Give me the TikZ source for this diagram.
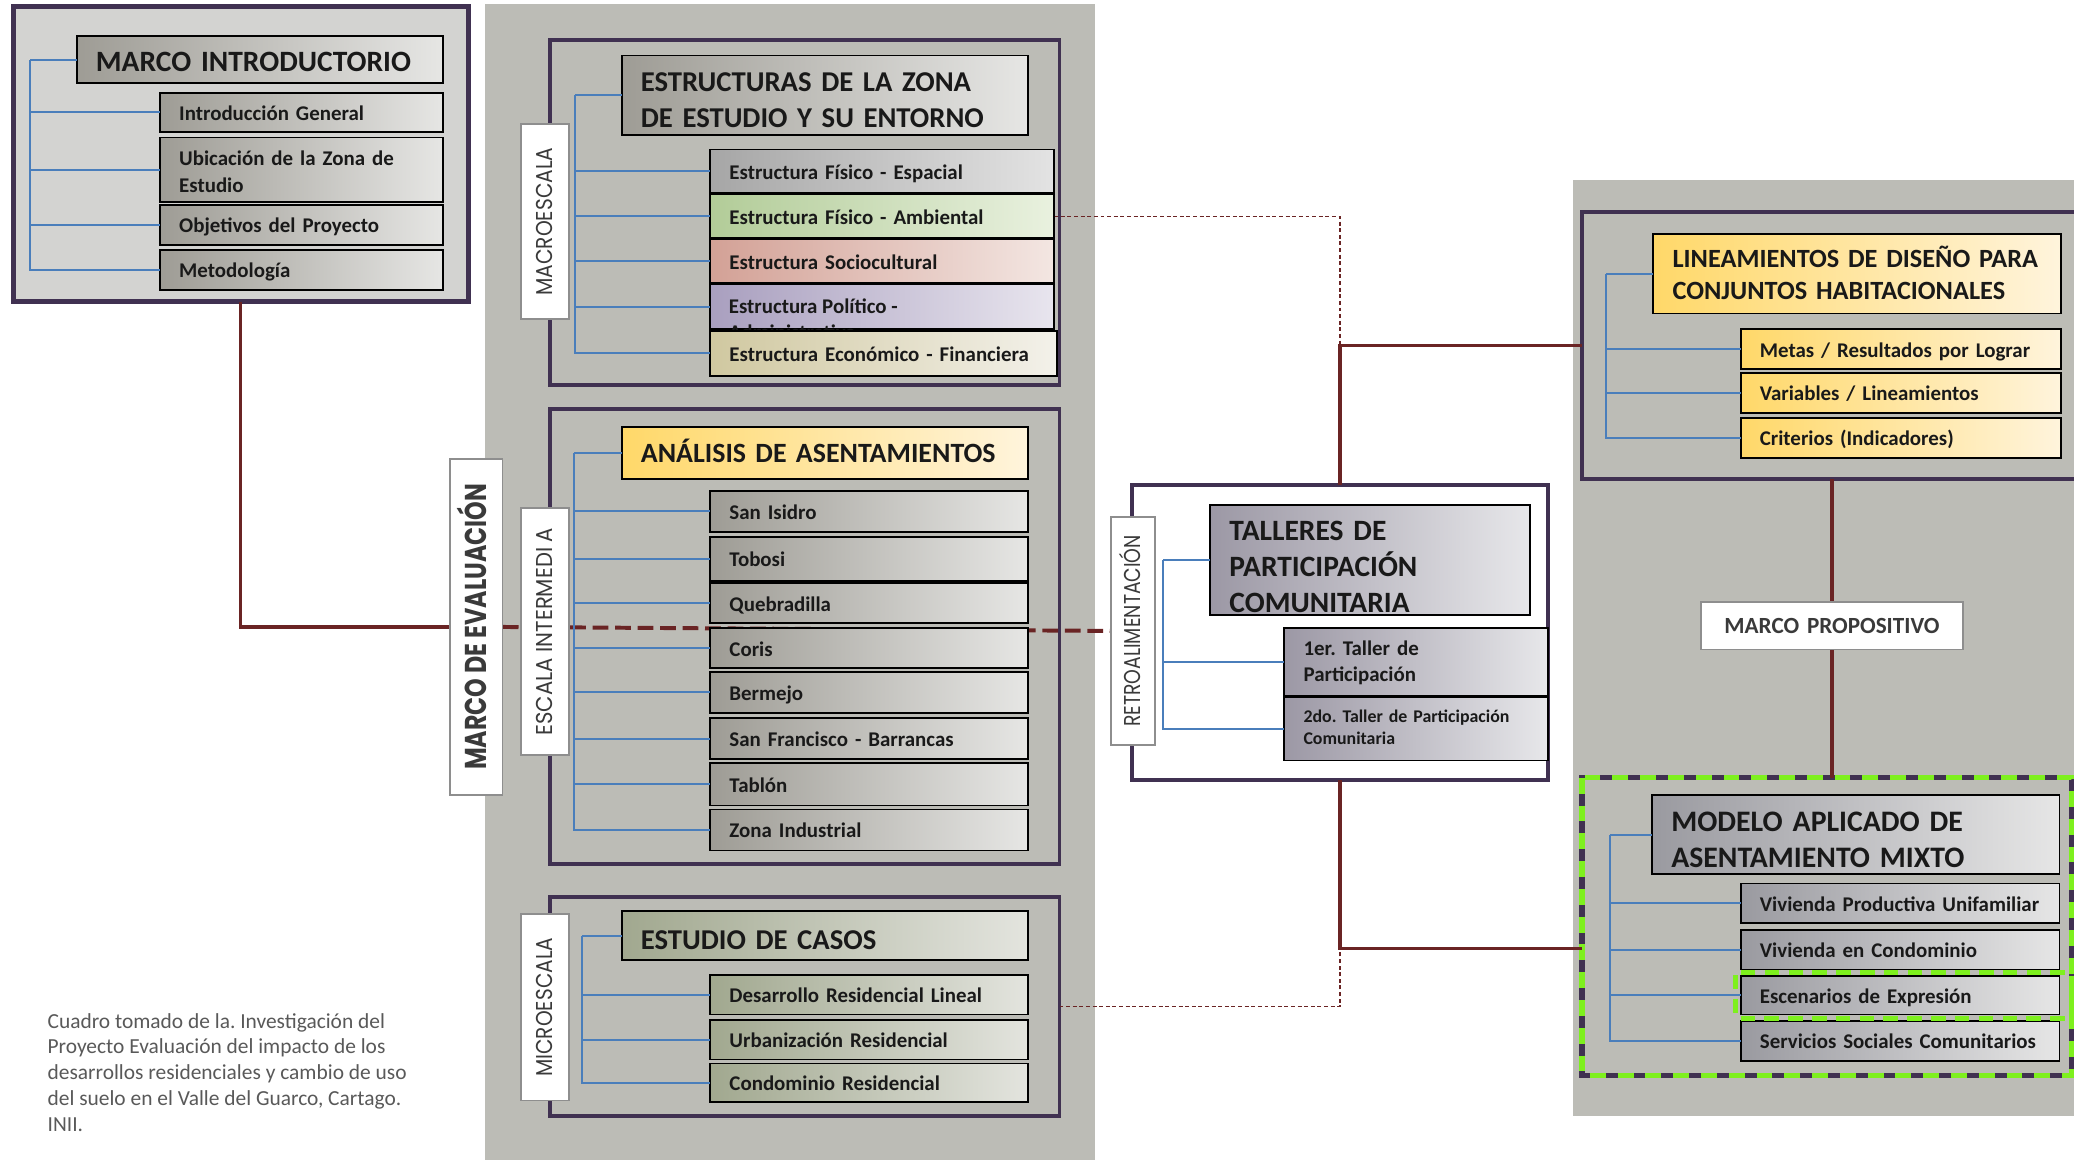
\documentclass[tikz,border=0pt]{standalone}
\usepackage{fontspec}
\usepackage{graphicx}
\setmainfont{Carlito}
\newfontfamily\geo{Poppins}
\usetikzlibrary{calc}
\frenchspacing

\definecolor{bgg}{HTML}{BCBCB6}
\definecolor{panelg}{HTML}{D3D3D1}
\definecolor{purp}{HTML}{403151}
\definecolor{redc}{HTML}{6A2424}
\definecolor{bluec}{HTML}{4A7EBB}
\definecolor{greenc}{HTML}{7EF01E}
\definecolor{lblgray}{HTML}{8E8E8E}
\definecolor{capg}{HTML}{595959}
\definecolor{lbltext}{HTML}{3A3A3A}
\definecolor{gyL}{HTML}{9E9C95}\definecolor{gyR}{HTML}{E6E6E4}
\definecolor{g2L}{HTML}{A6A6A6}\definecolor{g2R}{HTML}{E3E3E3}
\definecolor{grL}{HTML}{B2CC98}\definecolor{grR}{HTML}{E9F1DF}
\definecolor{pkL}{HTML}{D3A196}\definecolor{pkR}{HTML}{F3E6E2}
\definecolor{vlL}{HTML}{A99FBF}\definecolor{vlR}{HTML}{E8E5EE}
\definecolor{bgL}{HTML}{D0C8A0}\definecolor{bgR}{HTML}{F3F1EA}
\definecolor{ylL}{HTML}{FFD869}\definecolor{ylR}{HTML}{FFF4DC}
\definecolor{ogL}{HTML}{A1A88F}\definecolor{ogR}{HTML}{E3E4DE}
\definecolor{ppL}{HTML}{9C98A5}\definecolor{ppR}{HTML}{E7E7EA}
\definecolor{mgL}{HTML}{9A9AA0}\definecolor{mgR}{HTML}{E6E6E6}

\pgfdeclarelayer{back}
\pgfdeclarelayer{mid}
\pgfsetlayers{back,mid,main}

\tikzset{
 every node/.style={inner sep=0pt, outer sep=0pt},
 outerbox/.style={draw=purp, line width=3pt, fill=bgg},
 lblbox/.style={draw=lblgray, line width=1.3pt, fill=white},
 framebox/.style={draw=black, line width=1.4pt},
 it/.style={font=\bfseries\fontsize{15.8}{20}\selectfont, text=black!90},
 itsm/.style={font=\bfseries\fontsize{13.5}{17}\selectfont, text=black!90},
 tt/.style={text=black!90},
 gy/.style={framebox, left color=gyL, right color=gyR},
 gtwo/.style={framebox, left color=g2L, right color=g2R},
 gr/.style={framebox, left color=grL, right color=grR},
 pk/.style={framebox, left color=pkL, right color=pkR},
 vl/.style={framebox, left color=vlL, right color=vlR},
 bge/.style={framebox, left color=bgL, right color=bgR},
 yl/.style={framebox, left color=ylL, right color=ylR},
 og/.style={framebox, left color=ogL, right color=ogR},
 pp/.style={framebox, left color=ppL, right color=ppR},
 mg/.style={framebox, left color=mgL, right color=mgR},
 tree/.style={draw=bluec, line width=1.5pt},
 link/.style={draw=redc, line width=2.5pt},
 linkdash/.style={draw=redc, line width=3pt, dash pattern=on 12pt off 5pt},
 thindash/.style={draw=redc, line width=1.1pt, dash pattern=on 3pt off 2pt},
 vlab/.style={rotate=90, text=lbltext},
}

% plain box: name x1 y1 x2 y2 style
\newcommand{\ob}[6]{%
 \pgfmathsetmacro{\bxw}{#4-#2}\pgfmathsetmacro{\bxh}{#5-#3}%
 \node[#6, minimum width=\bxw pt, minimum height=\bxh pt] (#1) at ({(#2+#4)/2},{(#3+#5)/2}) {};}
% box with text: name x1 y1 x2 y2 boxstyle textstyle shift text
\newcommand{\bx}[9]{%
 \ob{#1}{#2}{#3}{#4}{#5}{#6}%
 \pgfmathsetmacro{\bxt}{#4-#2-29}%
 \node[text width=\bxt pt, align=left, #7] (#1t) at ($(#1.center)+(0,#8)$) {\strut #9\strut};}

\newcommand{\vtxt}[3]{\resizebox{#1pt}{#2pt}{\geo\smash{#3}\vphantom{M}}}
\newcommand{\vtxtb}[3]{\resizebox{#1pt}{#2pt}{\geo\bfseries\smash{#3}\vphantom{M}}}

\begin{document}
\begin{tikzpicture}[x=1pt, y=-1pt]
\useasboundingbox (0,0) rectangle (1568,877);
\clip (0,0) rectangle (1568,877);

% ---------- backgrounds and outer frames ----------
\begin{pgfonlayer}{back}
 \fill[white] (0,0) rectangle (1568,877);
 \fill[bgg] (367,3) rectangle (828,877);
 \fill[bgg] (1189,136) rectangle (1572,844);
 \ob{outL}{10}{5}{354}{228}{outerbox, fill=panelg, line width=3.5pt}
 \ob{outE}{416}{30}{801}{291}{outerbox}
 \ob{outA}{416}{309}{801}{653}{outerbox}
 \ob{outC}{416}{678}{801}{844}{outerbox}
 \ob{outT}{856}{367}{1170}{590}{outerbox, fill=white}
 \ob{outLi}{1196}{160}{1580}{362}{outerbox}
 \ob{outMo}{1196}{588}{1566}{813}{outerbox, line width=4pt}
 \draw[greenc, line width=4pt, dash pattern=on 12pt off 9pt] (outMo.north west) rectangle (outMo.south east);
\end{pgfonlayer}

% ---------- MARCO INTRODUCTORIO ----------
\bx{tMI}{58}{27}{335}{63}{gy}{tt, font=\bfseries\fontsize{22.3}{27}\selectfont}{3.5}{MARCO INTRODUCTORIO}
\bx{iIG}{121}{70}{335}{100}{gy}{it}{2}{Introducción General}
\bx{iUZ}{121}{104}{335}{153}{gy}{it}{3}{Ubicación de la Zona de\\Estudio}
\bx{iOP}{121}{155}{335}{185}{gy}{it}{2}{Objetivos del Proyecto}
\bx{iMe}{121}{189}{335}{219}{gy}{it}{2}{Metodología}
\draw[tree] (tMI.west) -- ++(-35,0) coordinate (trL);
\foreach \n in {iIG,iUZ,iOP,iMe} \draw[tree] (trL) |- (\n.west);

% ---------- MARCO DE EVALUACION ----------
\ob{mde}{340}{347}{380}{601}{lblbox}
\node[vlab] (mdeT) at (mde.center) {\vtxtb{216}{16}{MARCO DE EVALUACIÓN}};

% ---------- ESTRUCTURAS ----------
\ob{lMac}{394}{94}{430}{241}{lblbox}
\node[vlab] (lMacT) at (lMac.center) {\vtxt{112}{12}{MACROESCALA}};
\bx{tE}{470}{42}{777}{102}{gy}{tt, font=\bfseries\fontsize{21.7}{26.5}\selectfont}{5.5}{ESTRUCTURAS DE LA ZONA\\DE ESTUDIO Y SU ENTORNO}
\bx{esp}{537}{113}{797}{146}{gtwo}{it}{2}{Estructura Físico - Espacial}
\bx{amb}{537}{147}{797}{180}{gr}{it}{2}{Estructura Físico - Ambiental}
\bx{soc}{537}{181}{797}{214}{pk}{it}{2}{Estructura Sociocultural}
\ob{pol}{537}{215}{797}{249}{vl}
\node[anchor=north west, align=left, it] (polT) at (551,223) {\strut Estructura Político -\\Administrativa};
\bx{eco}{537}{250}{799}{284}{bge}{it}{2}{Estructura Económico - Financiera}
\draw[tree] (tE.west) -- ++(-35,0) coordinate (trE);
\foreach \n in {esp,amb,soc,pol,eco} \draw[tree] (trE) |- (\n.west);

% ---------- ANALISIS ----------
\ob{lInt}{394}{384}{430}{571}{lblbox}
\node[vlab] (lIntT) at (lInt.center) {\vtxt{157}{12}{ESCALA INTERMEDI A}};
\bx{tA}{470}{323}{777}{362}{yl}{tt, font=\bfseries\fontsize{21.1}{26}\selectfont}{2}{ANÁLISIS DE ASENTAMIENTOS}
\bx{a1}{537}{371}{777}{402}{gy}{it}{2}{San Isidro}
\bx{a2}{537}{406}{777}{439}{gy}{it}{2}{Tobosi}
\bx{a3}{537}{441}{777}{471}{gy}{it}{2}{Quebradilla}
\bx{a4}{537}{475}{777}{505}{gy}{it}{2}{Coris}
\bx{a5}{537}{508}{777}{539}{gy}{it}{2}{Bermejo}
\bx{a6}{537}{543}{777}{574}{gy}{it}{2}{San Francisco - Barrancas}
\bx{a7}{537}{577}{777}{609}{gy}{it}{2}{Tablón}
\bx{a8}{537}{612}{777}{643}{gy}{it}{2}{Zona Industrial}
\draw[tree] (tA.west) -- ++(-36,0) coordinate (trA);
\foreach \n in {a1,a2,a3,a4,a5,a6,a7,a8} \draw[tree] (trA) |- (\n.west);

% ---------- ESTUDIO DE CASOS ----------
\ob{lMic}{394}{691}{430}{832}{lblbox}
\node[vlab] (lMicT) at (lMic.center) {\vtxt{105}{12}{MICROESCALA}};
\bx{tC}{470}{689}{777}{726}{og}{tt, font=\bfseries\fontsize{21.7}{26}\selectfont}{5}{ESTUDIO DE CASOS}
\bx{c1}{537}{737}{777}{767}{og}{it}{2}{Desarrollo Residencial Lineal}
\bx{c2}{537}{771}{777}{801}{og}{it}{2}{Urbanización Residencial}
\bx{c3}{537}{804}{777}{833}{og}{it}{2}{Condominio Residencial}
\draw[tree] (tC.west) -- ++(-30,0) coordinate (trC);
\foreach \n in {c1,c2,c3} \draw[tree] (trC) |- (\n.west);

% ---------- TALLERES ----------
\ob{retro}{840}{391}{873}{563}{lblbox}
\node[vlab] (retroT) at (retro.center) {\vtxt{145}{12}{RETROALIMENTACIÓN}};
\bx{tT}{915}{382}{1157}{465}{pp}{tt, font=\bfseries\fontsize{22.3}{27}\selectfont}{7}{TALLERES DE\\PARTICIPACIÓN\\COMUNITARIA}
\bx{t1}{971}{475}{1170}{526}{pp}{it}{1}{1er. Taller de\\Participación}
\bx{t2}{971}{527}{1170}{575}{pp}{itsm}{0}{2do. Taller de Participación\\Comunitaria}
\draw[tree] (tT.west) -- ++(-36,0) coordinate (trT);
\foreach \n in {t1,t2} \draw[tree] (trT) |- (\n.west);

% ---------- LINEAMIENTOS ----------
\bx{tLi}{1250}{177}{1558}{237}{yl}{tt, font=\bfseries\fontsize{19.9}{24}\selectfont}{2.5}{LINEAMIENTOS DE DISEÑO PARA\\CONJUNTOS HABITACIONALES}
\bx{l1}{1316}{249}{1558}{279}{yl}{it}{2}{Metas / Resultados por Lograr}
\bx{l2}{1316}{282}{1558}{312}{yl}{it}{2}{Variables / Lineamientos}
\bx{l3}{1316}{316}{1558}{346}{yl}{it}{2}{Criterios (Indicadores)}
\draw[tree] (tLi.west) -- ++(-36,0) coordinate (trLi);
\foreach \n in {l1,l2,l3} \draw[tree] (trLi) |- (\n.west);

% ---------- MARCO PROPOSITIVO ----------
\bx{mprop}{1286}{455}{1484}{491}{lblbox}{align=center, font=\bfseries\fontsize{17.5}{21}\selectfont, text=lbltext}{1.5}{MARCO PROPOSITIVO}

% ---------- MODELO ----------
\bx{tMo}{1249}{601}{1557}{661}{mg}{tt, font=\bfseries\fontsize{22.5}{27}\selectfont}{6}{MODELO APLICADO DE\\ASENTAMIENTO MIXTO}
\bx{m1}{1316}{668}{1557}{698}{mg}{it}{2}{Vivienda Productiva Unifamiliar}
\bx{m2}{1316}{703}{1557}{733}{mg}{it}{2}{Vivienda en Condominio}
\bx{m3}{1316}{738}{1557}{767}{mg}{it}{2}{Escenarios de Expresión}
\bx{m4}{1316}{772}{1557}{802}{mg}{it}{2}{Servicios Sociales Comunitarios}
\draw[tree] (tMo.west) -- ++(-32,0) coordinate (trMo);
\foreach \n in {m1,m2,m3,m4} \draw[tree] (trMo) |- (\n.west);
\draw[greenc, line width=3.5pt, dash pattern=on 11pt off 7pt, rounded corners=2pt] ($(m3.north west)+(-4,-3)$) rectangle ($(m3.south east)+(9,3)$);

% ---------- caption ----------
\node[anchor=north west, align=left, font=\fontsize{16.2}{19.5}\selectfont, text=capg] (cap) at (36,766) {Cuadro tomado de la. Investigación del\\Proyecto Evaluación del impacto de los\\desarrollos residenciales y cambio de uso\\del suelo en el Valle del Guarco, Cartago.\\INII.};

% ---------- connectors ----------
\begin{pgfonlayer}{mid}
 \draw[link] (outL.south) |- (mde.west);
 \draw[linkdash] (mde.east) -- (retro.west);
 \coordinate (jT) at (outT.north |- outLi.west);
 \coordinate (jB) at (1013,717);
 \draw[link] (outT.north) -- (jT) -- (outLi.west);
 \draw[link] (outT.south) -- (jB) -- (jB -| outMo.west);
 \draw[thindash] (amb.east) -| (jT);
 \draw[thindash] (outC.east) -| (jB);
 \draw[link] (mprop.north) -- (mprop.north |- outLi.south);
 \draw[link] (mprop.south) -- (mprop.south |- outMo.north);
\end{pgfonlayer}
\end{tikzpicture}
\end{document}
